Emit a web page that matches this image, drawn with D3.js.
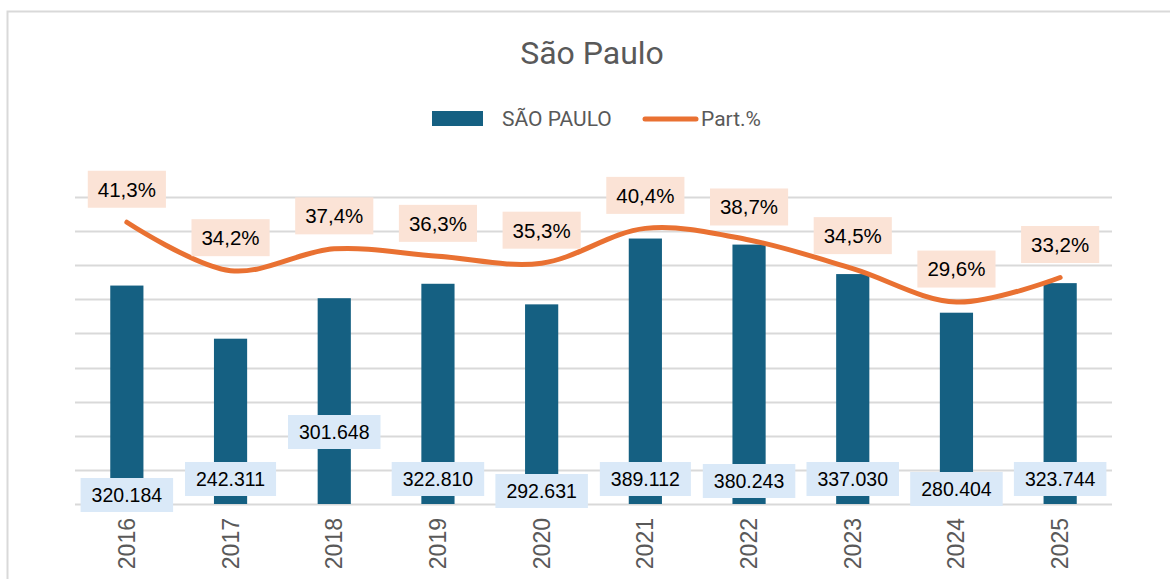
<!DOCTYPE html>
<html>
<head>
<meta charset="utf-8">
<script src="https://cdn.jsdelivr.net/npm/d3@7"></script>
<style>
  body { margin: 0; background: #fff; }
  svg { display: block; }
</style>
</head>
<body>
<svg width="1170" height="579"></svg>
<script>
// chart data
var years = ["2016", "2017", "2018", "2019", "2020", "2021", "2022", "2023", "2024", "2025"];
var totals = [320184, 242311, 301648, 322810, 292631, 389112, 380243, 337030, 280404, 323744];
var shares = [41.3, 34.2, 37.4, 36.3, 35.3, 40.4, 38.7, 34.5, 29.6, 33.2];

// bar labels were moved by hand in the original, distance above the base (px)
var barLabelLift = [9, 25, 72, 25, 13, 25, 23, 25, 15, 25];

var svg = d3.select("svg"),
    margin = {top: 197, right: 58, bottom: 75, left: 75},
    width = +svg.attr("width") - margin.left - margin.right,
    height = +svg.attr("height") - margin.top - margin.bottom;

var fmtInt = function(v) { return d3.format(",")(v).replace(/,/g, "."); };
var fmtPct = function(v) { return d3.format(".1f")(v).replace(".", ",") + "%"; };

var x = d3.scaleBand().domain(years).range([0, width]).paddingInner(0.68).paddingOuter(0.34),
    y = d3.scaleLinear().domain([0, 450000]).range([height, 0]),
    y2 = d3.scaleLinear().domain([0, 45]).range([height, 0]);

// chart frame (cropped at right / bottom in the original)
svg.append("rect")
   .attr("x", 7.5).attr("y", 11.5)
   .attr("width", 1200).attr("height", 700)
   .attr("fill", "none")
   .attr("stroke", "#d9d9d9")
   .attr("stroke-width", 2);

// title
svg.append("text")
   .attr("x", 592).attr("y", 64)
   .attr("text-anchor", "middle")
   .style("font-family", "Roboto, 'Open Sans', sans-serif")
   .style("font-size", "32px")
   .attr("fill", "#595959")
   .text("São Paulo");

// legend
var legend = svg.append("g").style("font-family", "Roboto, sans-serif").style("font-size", "21px");
legend.append("rect").attr("x", 432).attr("y", 111).attr("width", 51).attr("height", 15).attr("fill", "#156082");
legend.append("text").attr("x", 502).attr("y", 126).attr("fill", "#595959").text("SÃO PAULO");
legend.append("line").attr("x1", 645).attr("x2", 696).attr("y1", 119).attr("y2", 119)
   .attr("stroke", "#e97132").attr("stroke-width", 5).attr("stroke-linecap", "round");
legend.append("text").attr("x", 701).attr("y", 126).attr("fill", "#595959").text("Part.%");

var g = svg.append("g")
   .attr("transform", "translate(" + margin.left + "," + margin.top + ")");

// gridlines
g.append("g")
   .selectAll("line")
   .data(y.ticks(9))
   .enter().append("line")
   .attr("x1", 0).attr("x2", width)
   .attr("y1", function(d) { return Math.round(y(d)) + 0.5; })
   .attr("y2", function(d) { return Math.round(y(d)) + 0.5; })
   .attr("stroke", "#d9d9d9")
   .attr("stroke-width", 2);

// bars
g.append("g")
   .selectAll("rect")
   .data(totals)
   .enter().append("rect")
   .attr("x", function(d, i) { return x(years[i]); })
   .attr("y", function(d) { return y(d); })
   .attr("width", x.bandwidth())
   .attr("height", function(d) { return height - y(d); })
   .attr("fill", "#156082");

// x axis labels (rotated)
g.append("g")
   .selectAll("text")
   .data(years)
   .enter().append("text")
   .attr("transform", function(d) {
     return "translate(" + (x(d) + x.bandwidth() / 2 + 8) + "," + (height + 14) + ")rotate(-90)";
   })
   .attr("text-anchor", "end")
   .style("font-family", "'Liberation Sans Narrow', 'Liberation Sans', sans-serif")
   .style("font-size", "23px")
   .attr("fill", "#595959")
   .text(function(d) { return d; });

// share line
var line = d3.line()
   .x(function(d, i) { return x(years[i]) + x.bandwidth() / 2; })
   .y(function(d) { return y2(d); })
   .curve(d3.curveCatmullRom.alpha(0.5));

g.append("path")
   .datum(shares)
   .attr("d", line)
   .attr("fill", "none")
   .attr("stroke", "#e97132")
   .attr("stroke-width", 5)
   .attr("stroke-linecap", "round");

// label helper: text with a filled box behind it
function boxedLabel(parent, cx, cy, str, size, fill, padX, boxH) {
  var lg = parent.append("g");
  var box = lg.append("rect").attr("fill", fill);
  var t = lg.append("text")
     .attr("x", cx).attr("y", cy)
     .attr("dy", "0.36em")
     .attr("text-anchor", "middle")
     .style("font-family", "'Liberation Sans', Arial, sans-serif")
     .style("font-size", size + "px")
     .attr("fill", "#000")
     .text(str);
  var w = t.node().getComputedTextLength() + padX * 2;
  box.attr("x", cx - w / 2).attr("y", cy - boxH / 2).attr("width", w).attr("height", boxH);
}

var labels = g.append("g");
totals.forEach(function(v, i) {
  boxedLabel(labels, x(years[i]) + x.bandwidth() / 2, height - barLabelLift[i], fmtInt(v), 19.5, "#dae9f8", 11, 34);
});
shares.forEach(function(v, i) {
  boxedLabel(labels, x(years[i]) + x.bandwidth() / 2, y2(v) - 33, fmtPct(v), 20.5, "#fbe3d6", 10, 37);
});
</script>
</body>
</html>
